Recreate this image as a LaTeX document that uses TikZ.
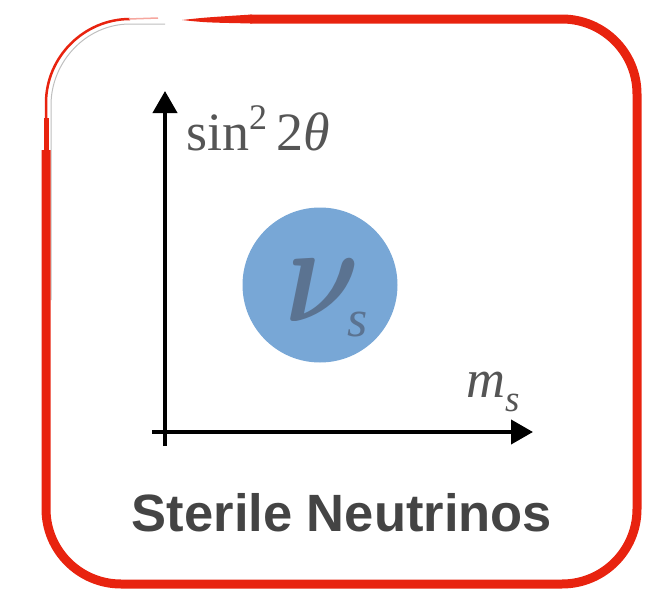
\documentclass[tikz,border=0pt]{standalone}
\usepackage{graphicx}
\usepackage{fontspec}
\setmainfont{Liberation Serif}
\newfontfamily\labelsans{Liberation Sans}
\usetikzlibrary{arrows.meta}
\definecolor{framered}{HTML}{E8230F}
\definecolor{nublue}{HTML}{78A7D6}
\definecolor{nutext}{HTML}{5B7391}
\definecolor{labelgray}{HTML}{555555}
\definecolor{titlegray}{HTML}{444444}
\begin{document}
\begin{tikzpicture}[x=1pt,y=-1pt,
  axis/.style={line width=4pt,-{Triangle[length=22pt,width=24pt]}},
  lbl/.style={anchor=base west,inner sep=0pt,text=labelgray}]
\useasboundingbox (0,0) rectangle (662,589);
% frame
\draw[black!25, line width=1pt] (51,300) -- (51,105) .. controls (51,62) and (86,24) .. (130,24) -- (165,24);
\draw[framered, line width=9pt, rounded corners=75pt] (250,19) -- (637,19) -- (637,584) -- (46,584) -- (46,150);
\fill[framered] (182,20) .. controls (205,17.5) .. (252,14.5) -- (252,23.5) .. controls (205,22.5) .. (182,20) -- cycle;
\draw[framered, line width=5pt] (46,152) -- (46,118);
\draw[framered, line width=2.5pt] (46,120) -- (46,103) .. controls (46,57) and (84,19) .. (130,19);
\draw[framered!40, line width=1.5pt] (129,19) -- (158,18);
% axes
\coordinate (ybot) at (165,446);
\coordinate (ytop) at (165,91);
\coordinate (xleft) at (152,432);
\coordinate (xright) at (533,432);
\draw[axis] (ybot) -- (ytop);
\draw[axis] (xleft) -- (xright);
% circle
\node[circle, fill=nublue, minimum size=155pt, inner sep=0pt] (nu) at (320,285) {};
\node[anchor=base west, inner sep=0pt, text=nutext] (nusym) at (285,321)
  {\scalebox{11.5}[14]{\boldmath$\nu$}\hspace{-12pt}\raisebox{-15pt}{\fontsize{52}{52}\selectfont\itshape s}};
% labels
\node[lbl] (ylabel) at (186,150)
  {\fontsize{54}{54}\selectfont sin\raisebox{21pt}{\fontsize{36}{36}\selectfont 2}\hspace{9pt}2\textit{θ}};
\node[lbl] (xlabel) at (466,397)
  {\fontsize{54}{54}\selectfont\itshape m\raisebox{-14pt}{\fontsize{37}{37}\selectfont s}};
\node[anchor=base, inner sep=0pt, text=titlegray] (title) at (342,531)
  {\labelsans\bfseries\fontsize{52.5}{52.5}\selectfont Sterile Neutrinos};
\end{tikzpicture}
\end{document}
